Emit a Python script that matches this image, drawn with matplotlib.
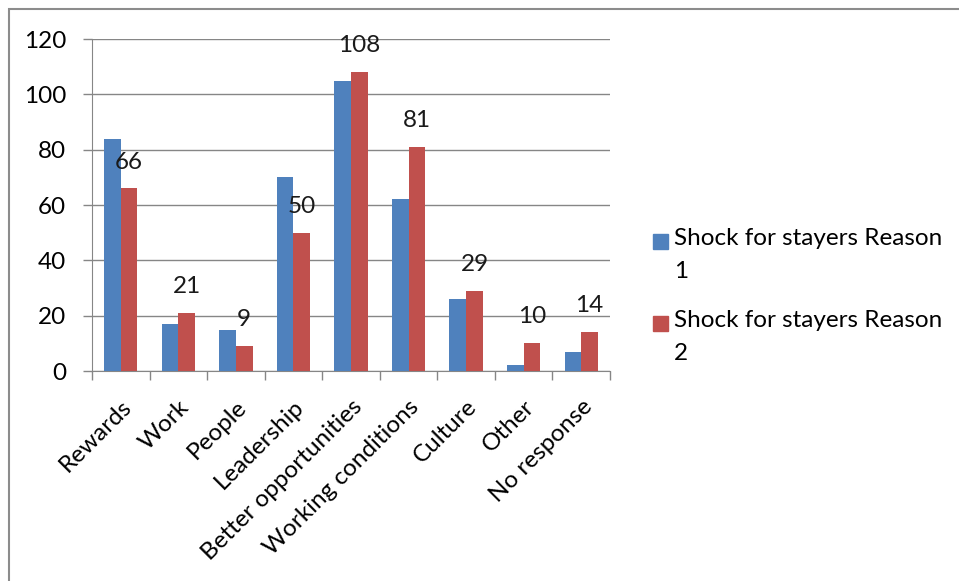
import matplotlib.pyplot as plt
import matplotlib.transforms as mtransforms
from matplotlib.patches import Rectangle
import numpy as np

categories = ["Rewards", "Work", "People", "Leadership", "Better opportunities",
              "Working conditions", "Culture", "Other", "No response"]
reason1 = [84, 17, 15, 70, 105, 62, 26, 2, 7]
reason2 = [66, 21, 9, 50, 108, 81, 29, 10, 14]
series_names = ["Shock for stayers Reason\n1", "Shock for stayers Reason\n2"]
yticks = [0, 20, 40, 60, 80, 100, 120]

W, H = 959, 581
blue = "#4F81BD"
red = "#C0504D"
gray = "#868686"
fs = 17.5

plt.rcParams['font.family'] = ['Lato', 'DejaVu Sans']

fig = plt.figure(figsize=(W / 100, H / 100), dpi=100)
ax = fig.add_axes([92 / W, 1 - 371 / H, (610 - 92) / W, (371 - 39) / H])

x = np.arange(len(categories))
w = 0.29
ax.bar(x - w / 2, reason1, w, color=blue, zorder=3)
ax.bar(x + w / 2, reason2, w, color=red, zorder=3)

# values shown above the second series only
for xi, v in zip(x, reason2):
    ax.annotate(str(v), (xi + w / 2, v), xytext=(0, 19), textcoords='offset points',
                ha='center', va='center', fontsize=fs, color='#1a1a1a', zorder=5)

ax.set_xlim(-0.5, len(categories) - 0.5)
ax.set_ylim(0, 120)
ax.set_yticks(yticks)
ax.set_xticks(x)
ax.set_xticks(np.arange(-0.5, len(categories)), minor=True)
ax.set_xticklabels(categories, rotation=45, ha='right', va='top', rotation_mode='anchor')
shift = mtransforms.ScaledTranslation(2 / 100, 0, fig.dpi_scale_trans)
for lab in ax.get_xticklabels():
    lab.set_transform(lab.get_transform() + shift)

ax.tick_params(axis='x', which='major', length=0, pad=18, labelsize=fs)
ax.tick_params(axis='x', which='minor', length=6.5, color=gray, width=1)
ax.tick_params(axis='y', length=6.5, color=gray, width=1, pad=12, labelsize=fs)

ax.grid(axis='y', color=gray, lw=1)
ax.set_axisbelow(True)
for s in ['top', 'right']:
    ax.spines[s].set_visible(False)
for s in ['left', 'bottom']:
    ax.spines[s].set_color(gray)

# legend drawn by hand so the swatch sits on the first text line
for i, (name, col) in enumerate(zip(series_names, [blue, red])):
    cy = 241 + i * 82
    fig.patches.append(Rectangle((653 / W, 1 - (cy + 8) / H), 15 / W, 15 / H,
                                 transform=fig.transFigure, color=col))
    fig.text(674 / W, 1 - (cy - 13) / H, name, fontsize=fs, va='top', ha='left',
             linespacing=1.7)

# chart area border
fig.patches.append(Rectangle((9 / W, -0.1), 2, 1.1 - 9 / H, transform=fig.transFigure,
                             fill=False, edgecolor='#8c8c8c', lw=1.5))

fig.savefig('out.png', dpi=100)
